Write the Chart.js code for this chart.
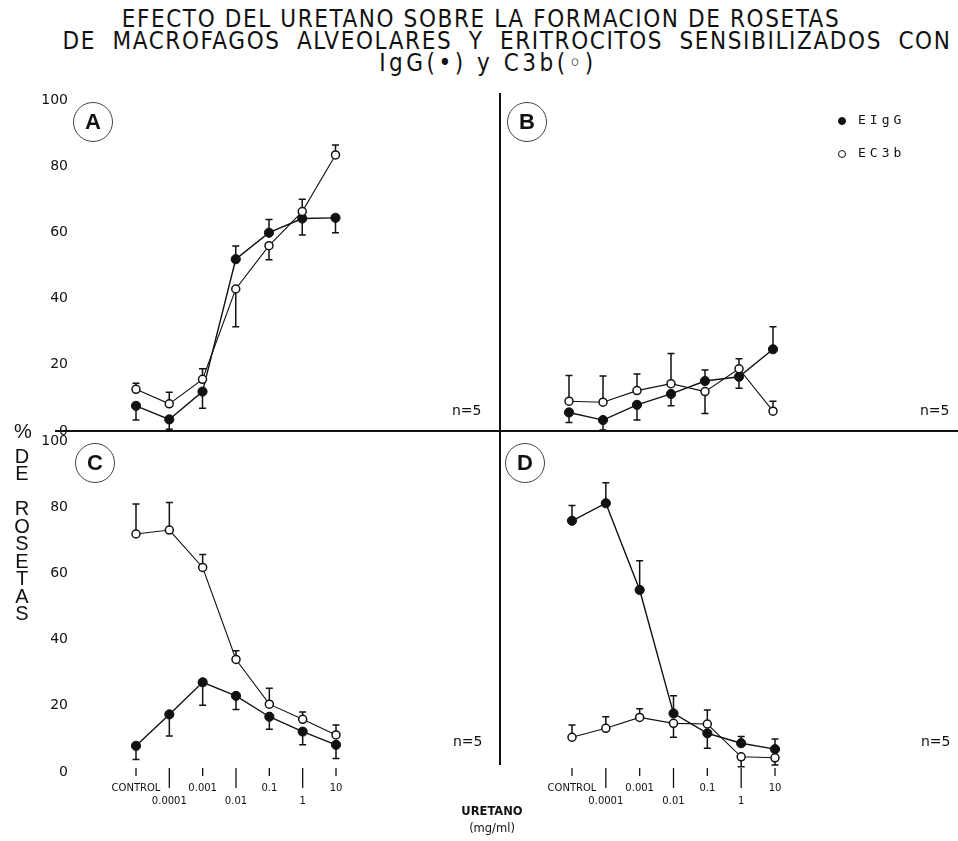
<!DOCTYPE html>
<html>
<head>
<meta charset="utf-8">
<script src="https://cdn.jsdelivr.net/npm/chart.js@4.4.1/dist/chart.umd.min.js"></script>
<style>
  body { margin: 0; width: 958px; height: 841px; background: #fff; position: relative; overflow: hidden; color: #111; }
  canvas { position: absolute; }
  .title { position: absolute; width: 1000px; text-align: center; font: 24px "Liberation Sans Narrow", "DejaVu Sans Condensed", sans-serif; letter-spacing: 1.6px; white-space: nowrap; }
  .rule { position: absolute; background: #111; }
  .badge { position: absolute; width: 38px; height: 38px; border: 1.2px solid #444; border-radius: 50%; font: bold 22px "Liberation Sans", sans-serif; text-align: center; line-height: 38px; }
  .n5 { position: absolute; font: 14px "DejaVu Sans", sans-serif; }
  .leg { position: absolute; font: 13px "DejaVu Sans Mono", monospace; letter-spacing: 4px; }
  .dot { position: absolute; width: 8px; height: 8px; border-radius: 50%; border: 1.3px solid #111; box-sizing: border-box; }
  .ytitle { position: absolute; font: 20px "Liberation Sans", sans-serif; text-align: center; width: 20px; }
  .xtitle { position: absolute; font: bold 11.5px "DejaVu Sans", sans-serif; text-align: center; width: 90px; line-height: 17px; }
</style>
</head>
<body>
<div class="title" style="left:-19px;top:5px">EFECTO DEL URETANO SOBRE LA FORMACION DE ROSETAS</div>
<div class="title" style="left:7px;top:27px;word-spacing:8px">DE MACROFAGOS ALVEOLARES Y ERITROCITOS SENSIBILIZADOS CON</div>
<div class="title" style="left:-12px;top:49px;letter-spacing:3.5px">IgG(•) y C3b(◦)</div>

<canvas id="panelA" width="500" height="371" style="left:0;top:80px"></canvas>
<canvas id="panelB" width="458" height="371" style="left:500px;top:80px"></canvas>
<canvas id="panelC" width="500" height="420" style="left:0;top:421px"></canvas>
<canvas id="panelD" width="458" height="420" style="left:500px;top:421px"></canvas>

<!-- cruz que separa los cuatro paneles -->
<div class="rule" style="left:55px;top:430px;width:903px;height:2px"></div>
<div class="rule" style="left:499px;top:93px;width:2px;height:672px"></div>

<div class="badge" style="left:73px;top:102px">A</div>
<div class="badge" style="left:507px;top:102px">B</div>
<div class="badge" style="left:75px;top:443px">C</div>
<div class="badge" style="left:505px;top:443px">D</div>

<div class="n5" style="left:452px;top:402px">n=5</div>
<div class="n5" style="left:920px;top:402px">n=5</div>
<div class="n5" style="left:453px;top:733px">n=5</div>
<div class="n5" style="left:921px;top:733px">n=5</div>

<div class="dot" style="left:838px;top:117px;background:#111"></div>
<div class="leg" style="left:858px;top:112px">EIgG</div>
<div class="dot" style="left:838px;top:150px;background:#fff"></div>
<div class="leg" style="left:858px;top:145px">EC3b</div>

<div class="ytitle" style="left:13px;top:420px">%</div>
<div class="ytitle" style="left:12px;top:448px;line-height:17px">D<br>E</div>
<div class="ytitle" style="left:12px;top:500px;line-height:17.5px">R<br>O<br>S<br>E<br>T<br>A<br>S</div>

<div class="xtitle" style="left:447px;top:803px">URETANO<br><span style="font-weight:normal">(mg/ml)</span></div>

<script>
// concentraciones de uretano (mg/ml)
const categories = ["CONTROL", "0.0001", "0.001", "0.01", "0.1", "1", "10"];

// % de rosetas; los errores llevan signo: negativo = barra hacia abajo
const igA = [7.6, 3.5, 11.9, 51.9, 59.9, 64.2, 64.4];
const igAErr = [-4.3, -3, -5, 4, 4, -5, -4.5];
const c3A = [12.6, 8.2, 15.6, 42.9, 56, 66.3, 83.4];
const c3AErr = [1.8, 3.5, 3.2, -11.4, -4.3, 3.7, 3];

const igB = [5.6, 3.3, 7.9, 11.2, 15.1, 16.4, 24.7];
const igBErr = [-3, -3, -4.6, -3.6, 3.3, -3.5, 6.8];
const c3B = [9, 8.7, 12.2, 14.3, 11.9, 18.8, 6];
const c3BErr = [7.8, 7.9, 5, 9.1, -6.6, 3, 3];

const igC = [7.9, 17.4, 27.1, 23, 16.7, 12.2, 8.2];
const igCErr = [-4.1, -6.5, -6.9, -4.1, -3.8, -4, -4.1];
const c3C = [71.9, 73.1, 61.8, 34, 20.5, 15.9, 11.2];
const c3CErr = [9.1, 8.3, 3.9, 2.6, 4.8, 2.2, 3];

const igD = [75.9, 81.2, 55, 17.7, 11.7, 8.7, 6.9];
const igDErr = [4.6, 6.2, 8.8, 5.3, -4.5, 2, 3.1];
const c3D = [10.5, 13.2, 16.5, 14.7, 14.5, 4.6, 4.3];
const c3DErr = [3.7, 3.5, 2.6, -4.2, 4.2, -3, -2.2];

const INK = "#111";

// barras de error con tope, dibujadas debajo de los puntos
const errorBars = {
  id: "errorBars",
  beforeDatasetsDraw(chart) {
    const { ctx } = chart;
    const x = chart.scales.x, y = chart.scales.y;
    ctx.save();
    ctx.strokeStyle = INK;
    ctx.lineWidth = 1.5;
    chart.data.datasets.forEach((ds) => {
      ds.errors.forEach((e, i) => {
        const px = x.getPixelForValue(i);
        const y0 = y.getPixelForValue(ds.data[i]);
        const y1 = y.getPixelForValue(ds.data[i] + e);
        ctx.beginPath();
        ctx.moveTo(px, y0);
        ctx.lineTo(px, y1);
        ctx.moveTo(px - 3.5, y1);
        ctx.lineTo(px + 3.5, y1);
        ctx.stroke();
      });
    });
    ctx.restore();
  },
};

// marcas del eje x: largas para las etiquetas de la segunda fila
const staggerTicks = {
  id: "staggerTicks",
  afterDraw(chart) {
    const x = chart.scales.x;
    if (!x.options.display) return;
    const { ctx } = chart;
    ctx.save();
    ctx.strokeStyle = INK;
    ctx.lineWidth = 1.3;
    x.ticks.forEach((t, i) => {
      const px = x.getPixelForTick(i);
      ctx.beginPath();
      ctx.moveTo(px, x.top - 4);
      ctx.lineTo(px, x.top + (i % 2 ? 16 : 4));
      ctx.stroke();
    });
    ctx.restore();
  },
};

function makePanel(id, ig, igErr, c3, c3Err, opts) {
  const hasX = opts.showX;
  const hasY = opts.showY;
  new Chart(document.getElementById(id), {
    type: "line",
    data: {
      labels: categories,
      datasets: [
        {
          label: "EC3b",
          data: c3,
          errors: c3Err,
          borderColor: INK,
          borderWidth: 1.1,
          pointRadius: 4,
          pointBorderWidth: 1.5,
          pointBackgroundColor: "#fff",
          pointBorderColor: INK,
          clip: false,
        },
        {
          label: "EIgG",
          data: ig,
          errors: igErr,
          borderColor: INK,
          borderWidth: 1.4,
          pointRadius: 4.6,
          pointBorderWidth: 1,
          pointBackgroundColor: INK,
          pointBorderColor: INK,
          clip: false,
        },
      ],
    },
    options: {
      responsive: false,
      animation: false,
      devicePixelRatio: 1,
      layout: { padding: opts.padding },
      plugins: { legend: { display: false }, tooltip: { enabled: false } },
      scales: {
        x: {
          display: hasX,
          offset: false,
          grid: { display: false, drawTicks: false },
          border: { display: false },
          ticks: {
            autoSkip: false,
            maxRotation: 0,
            padding: 10,
            color: INK,
            font: { family: "DejaVu Sans", size: 10, lineHeight: 1.3 },
            callback: (v, i) => (i % 2 ? ["", categories[i]] : categories[i]),
          },
          afterFit: (s) => { if (hasX) s.height = 40; },
        },
        y: {
          display: hasY,
          min: 0,
          max: 100,
          // tickLength invisible: solo separa las etiquetas del área
          grid: { display: false, drawTicks: true, tickLength: 64 },
          border: { display: false },
          ticks: {
            stepSize: 20,
            padding: 4,
            color: INK,
            font: { family: "DejaVu Sans", size: 14 },
          },
          afterFit: (s) => { if (hasY) s.width = 136; },
        },
      },
    },
    plugins: [errorBars, staggerTicks],
  });
}

makePanel("panelA", igA, igAErr, c3A, c3AErr, {
  showX: false, showY: true,
  padding: { left: 0, top: 20, right: 164.5, bottom: 20 },
});
makePanel("panelB", igB, igBErr, c3B, c3BErr, {
  showX: false, showY: false,
  padding: { left: 69, top: 20, right: 185, bottom: 20 },
});
makePanel("panelC", igC, igCErr, c3C, c3CErr, {
  showX: true, showY: true,
  padding: { left: 0, top: 20, right: 164, bottom: 29 },
});
makePanel("panelD", igD, igDErr, c3D, c3DErr, {
  showX: true, showY: false,
  padding: { left: 72, top: 20, right: 183, bottom: 29 },
});
</script>
</body>
</html>
